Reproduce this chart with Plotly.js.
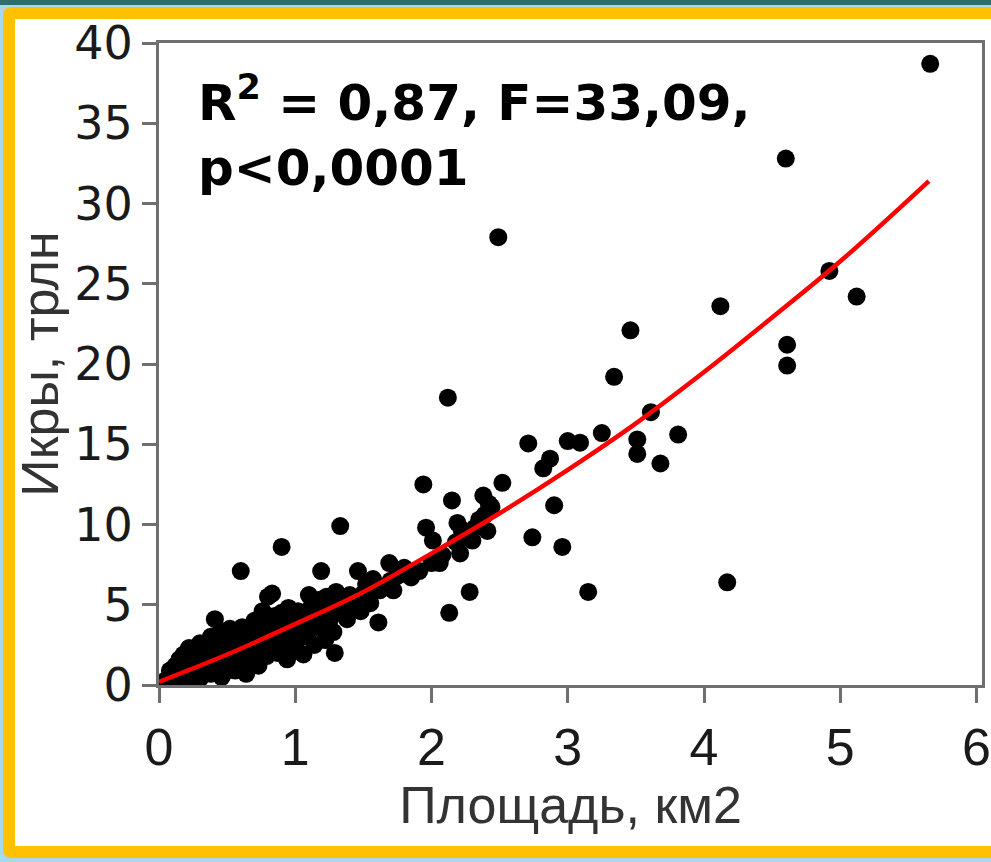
<!DOCTYPE html>
<html>
<head>
<meta charset="utf-8">
<script src="https://cdn.plot.ly/plotly-3.0.1.min.js"></script>
<style>
  html, body { margin: 0; padding: 0; width: 991px; height: 862px; overflow: hidden;
    background: linear-gradient(#2f6d6a 0px, #2f6d6a 5px, #a9d7ec 5px, #a9d7ec 100%); }
  #frame { position: absolute; left: 3px; top: 7px; width: 1010px; height: 851px;
    box-sizing: border-box; border: 12px solid #FFC000; border-radius: 8px; background: #ffffff; }
  #chart { position: absolute; left: 0; top: 0; width: 991px; height: 862px; }
</style>
</head>
<body>
<div id="frame"></div>
<div id="chart"></div>
<script>
// Observed points: area (km2) vs fecundity (trillions)
const areaKm2 = [
  0.05,0.08,0.10,0.12,0.14,0.15,0.17,0.18,0.20,0.21,0.22,0.24,0.25,0.27,0.28,0.30,0.30,0.32,0.33,0.35,
  0.36,0.38,0.38,0.40,0.41,0.42,0.43,0.45,0.46,0.47,0.48,0.50,0.50,0.52,0.53,0.55,0.56,0.58,0.60,0.60,
  0.61,0.62,0.64,0.65,0.66,0.68,0.70,0.70,0.72,0.73,0.75,0.76,0.78,0.79,0.80,0.80,0.82,0.83,0.84,0.85,
  0.87,0.88,0.90,0.90,0.91,0.93,0.94,0.95,0.96,0.98,1.00,1.00,1.02,1.03,1.05,1.06,1.08,1.10,1.10,1.12,
  1.14,1.15,1.17,1.18,1.19,1.20,1.22,1.23,1.25,1.27,1.28,1.29,1.30,1.32,1.33,1.35,1.37,1.38,1.40,1.42,
  1.45,1.46,1.48,1.50,1.52,1.55,1.57,1.61,1.62,1.65,1.69,1.70,1.72,1.75,1.77,1.80,1.85,1.88,1.91,1.94,
  1.96,2.00,2.01,2.06,2.08,2.12,2.13,2.15,2.18,2.19,2.21,2.22,2.25,2.28,2.30,2.32,2.35,2.38,2.39,2.41,
  2.42,2.44,2.49,2.52,2.71,2.74,2.82,2.87,2.90,2.96,3.00,3.09,3.15,3.25,3.34,3.46,3.51,3.51,3.61,3.68,
  3.81,4.12,4.17,4.60,4.61,4.61,4.92,5.12,5.66
];
const eggsTrln = [
  0.3,0.9,0.5,1.2,0.4,1.6,0.8,1.9,1.1,0.3,2.3,1.5,0.6,2.0,1.2,2.6,0.4,1.7,0.9,2.2,
  1.4,3.0,0.7,1.9,4.1,2.6,1.2,3.3,0.5,2.1,1.6,2.8,0.9,3.5,1.4,2.3,0.9,3.0,7.1,1.8,
  3.6,2.5,0.7,3.2,1.5,2.8,4.0,2.1,3.4,1.2,2.6,4.6,3.1,1.8,5.5,3.8,2.4,5.7,3.3,4.3,
  2.0,3.6,8.6,4.5,2.8,3.9,1.6,4.8,3.2,2.4,4.2,3.5,4.6,2.9,3.8,1.9,4.4,5.6,3.3,4.9,
  2.5,4.1,5.3,3.6,7.1,4.7,2.8,5.5,4.0,4.9,3.3,2.0,5.8,4.5,9.9,5.0,5.2,4.1,5.6,4.7,
  5.3,7.1,4.6,5.7,6.3,5.1,6.6,3.9,5.9,6.1,7.6,6.5,5.9,6.8,7.1,7.3,6.7,7.1,7.1,12.5,
  9.8,7.6,9.0,7.6,8.1,17.9,4.5,11.5,8.9,10.1,8.2,9.7,9.2,5.8,9.0,9.8,10.3,11.8,10.6,9.6,
  11.3,11.1,27.9,12.6,15.05,9.2,13.5,14.1,11.2,8.6,15.2,15.1,5.8,15.7,19.2,22.1,15.3,14.4,17.0,13.8,
  15.6,23.6,6.4,32.8,21.2,19.9,25.8,24.2,38.7
];
// Fitted curve
const fitX = [0, 0.5, 1, 1.5, 2, 2.5, 3, 3.5, 4, 4.5, 5, 5.65];
const fitY = [0.2, 1.9, 3.8, 5.8, 8.2, 10.7, 13.4, 16.3, 19.5, 22.9, 26.4, 31.4];
const xTicks = [0, 1, 2, 3, 4, 5, 6];
const yTicks = [0, 5, 10, 15, 20, 25, 30, 35, 40];
const statsText = "<b>R<sup>2</sup> = 0,87, F=33,09,<br>p<0,0001</b>";
const xTitle = "Площадь, км2";
const yTitle = "Икры, трлн";

const traces = [
  { type: "scatter", mode: "markers", x: areaKm2, y: eggsTrln,
    marker: { color: "#000000", size: 18 }, hoverinfo: "skip", showlegend: false },
  { type: "scatter", mode: "lines", x: fitX, y: fitY,
    line: { color: "#ff0000", width: 4.5, shape: "spline" }, hoverinfo: "skip", showlegend: false }
];

const axisColor = "#6f6f6f";
const layout = {
  width: 991, height: 862,
  paper_bgcolor: "rgba(0,0,0,0)", plot_bgcolor: "rgba(0,0,0,0)",
  margin: { l: 159, r: 9, t: 43, b: 177, pad: 0 },
  showlegend: false,
  xaxis: {
    range: [0, 6.04], tickvals: xTicks, ticktext: xTicks.map(String),
    showgrid: false, zeroline: false, showline: true, linecolor: axisColor, linewidth: 3,
    mirror: true, ticks: "outside", ticklen: 15, tickwidth: 3, tickcolor: axisColor,
    ticklabeloverflow: "allow",
    tickfont: { family: "Liberation Sans, Arial, sans-serif", size: 52, color: "#1a1a1a" },
    title: { text: xTitle, standoff: 6,
      font: { family: "Liberation Sans, Arial, sans-serif", size: 52, color: "#333333" } },
    automargin: false
  },
  yaxis: {
    range: [0, 40], tickvals: yTicks, ticktext: yTicks.map(String),
    showgrid: false, zeroline: false, showline: true, linecolor: axisColor, linewidth: 3,
    mirror: true, ticks: "outside", ticklen: 14, tickwidth: 3, tickcolor: axisColor,
    ticklabeloverflow: "allow",
    tickfont: { family: "DejaVu Sans, sans-serif", size: 46, color: "#1a1a1a" },
    title: { text: yTitle, standoff: 0,
      font: { family: "Liberation Sans, Arial, sans-serif", size: 52, color: "#333333" } },
    automargin: false
  },
  annotations: [{
    xref: "paper", yref: "paper", x: 0.045, y: 0.965, xanchor: "left", yanchor: "top",
    align: "left", showarrow: false, text: statsText,
    font: { family: "DejaVu Sans, sans-serif", size: 50, color: "#000000" }
  }]
};

Plotly.newPlot("chart", traces, layout, { staticPlot: true, displayModeBar: false });
</script>
</body>
</html>
